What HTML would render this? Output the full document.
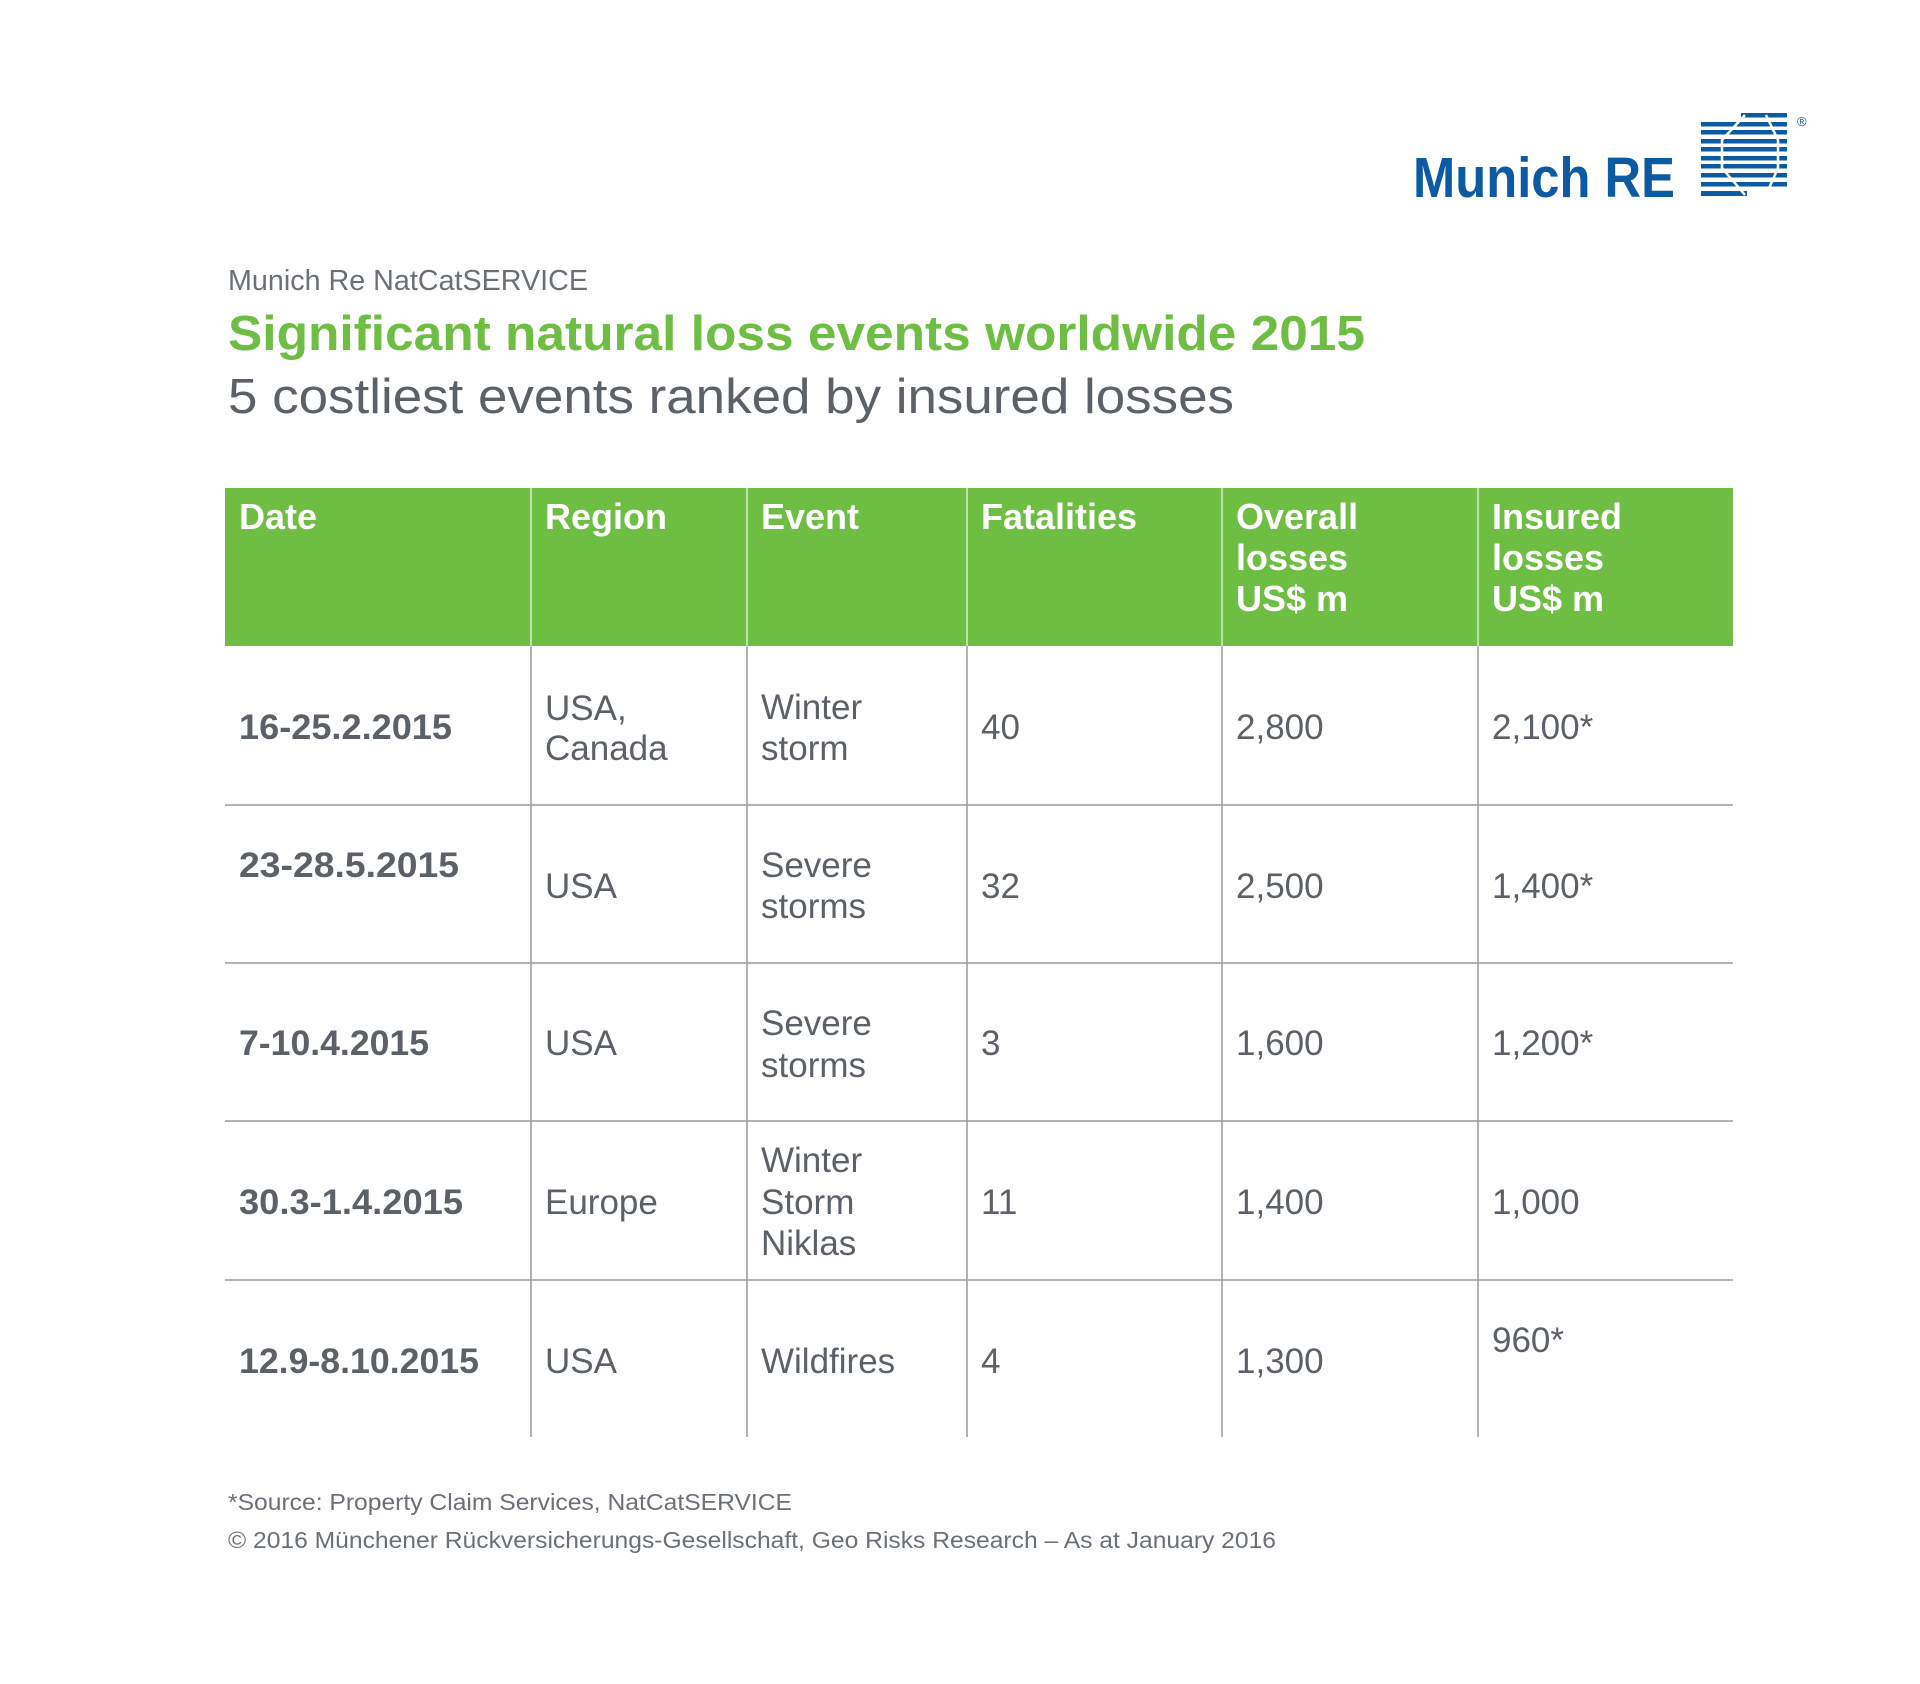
<!DOCTYPE html>
<html><head><meta charset="utf-8"><style>
html,body{margin:0;padding:0;background:#fff;}
svg{display:block;}
text{font-family:"Liberation Sans",sans-serif;}
</style></head><body>
<svg width="1920" height="1684" viewBox="0 0 1920 1684" xmlns="http://www.w3.org/2000/svg">
<rect width="1920" height="1684" fill="#fff"/>
<!-- logo -->
<text x="1413" y="197" font-size="57" font-weight="bold" fill="#0b5aa2" textLength="262" lengthAdjust="spacingAndGlyphs">Munich RE</text>
<g fill="#0b5aa2">
<rect x="1741" y="113" width="46" height="4.5"/>
<rect x="1701" y="122" width="86" height="4.5"/>
<rect x="1701" y="130" width="86" height="4.5"/>
<rect x="1701" y="139" width="86" height="4.5"/>
<rect x="1701" y="147" width="86" height="4.5"/>
<rect x="1701" y="156" width="86" height="4.5"/>
<rect x="1701" y="164" width="86" height="4.5"/>
<rect x="1701" y="173" width="86" height="4.5"/>
<rect x="1701" y="182" width="86" height="4.5"/>
<rect x="1701" y="191" width="46" height="5"/>
</g>
<g stroke="#fff" stroke-width="2.5" fill="none">
<polyline points="1745,115 1722,140 1722,168 1745,195"/>
<polyline points="1766,115 1778,140 1778,168 1766,195"/>
</g>
<text x="1797" y="126" font-size="13" fill="#0b5aa2">®</text>
<!-- titles -->
<text x="228" y="290" font-size="29" fill="#6b7077" textLength="360" lengthAdjust="spacingAndGlyphs">Munich Re NatCatSERVICE</text>
<text x="228" y="350" font-size="49" font-weight="bold" fill="#6fbe44" textLength="1137" lengthAdjust="spacingAndGlyphs">Significant natural loss events worldwide 2015</text>
<text x="228" y="413" font-size="49" fill="#5c6168" textLength="1006" lengthAdjust="spacingAndGlyphs">5 costliest events ranked by insured losses</text>
<!-- header -->
<rect x="225" y="488" width="1508" height="158" fill="#6fbe44"/>
<g stroke="#d8eccb" stroke-width="1.5">
<line x1="531" y1="488" x2="531" y2="646"/><line x1="747" y1="488" x2="747" y2="646"/><line x1="967" y1="488" x2="967" y2="646"/><line x1="1222" y1="488" x2="1222" y2="646"/><line x1="1478" y1="488" x2="1478" y2="646"/>
</g>
<g font-size="36" font-weight="bold" fill="#fff">
<text x="239" y="529">Date</text>
<text x="545" y="529">Region</text>
<text x="761" y="529">Event</text>
<text x="981" y="529">Fatalities</text>
<text x="1236" y="529">Overall</text><text x="1236" y="570">losses</text><text x="1236" y="611">US$ m</text>
<text x="1492" y="529">Insured</text><text x="1492" y="570">losses</text><text x="1492" y="611">US$ m</text>
</g>
<!-- grid -->
<g stroke="#9a9a9a" stroke-width="1.5">
<line x1="531" y1="646" x2="531" y2="1437"/><line x1="747" y1="646" x2="747" y2="1437"/><line x1="967" y1="646" x2="967" y2="1437"/><line x1="1222" y1="646" x2="1222" y2="1437"/><line x1="1478" y1="646" x2="1478" y2="1437"/>
<line x1="225" y1="805" x2="1733" y2="805"/><line x1="225" y1="963" x2="1733" y2="963"/><line x1="225" y1="1121" x2="1733" y2="1121"/><line x1="225" y1="1280" x2="1733" y2="1280"/>
</g>
<g font-size="35" fill="#5c6168">
<text x="239" y="739" font-weight="bold" textLength="213" lengthAdjust="spacingAndGlyphs">16-25.2.2015</text>
<text x="545" y="720">USA,</text><text x="545" y="760">Canada</text>
<text x="761" y="719">Winter</text><text x="761" y="760">storm</text>
<text x="981" y="739">40</text><text x="1236" y="739">2,800</text><text x="1492" y="739">2,100*</text>

<text x="239" y="877" font-weight="bold" textLength="220" lengthAdjust="spacingAndGlyphs">23-28.5.2015</text>
<text x="545" y="898">USA</text>
<text x="761" y="877">Severe</text><text x="761" y="918">storms</text>
<text x="981" y="898">32</text><text x="1236" y="898">2,500</text><text x="1492" y="898">1,400*</text>

<text x="239" y="1055" font-weight="bold" textLength="190" lengthAdjust="spacingAndGlyphs">7-10.4.2015</text>
<text x="545" y="1055">USA</text>
<text x="761" y="1035">Severe</text><text x="761" y="1077">storms</text>
<text x="981" y="1055">3</text><text x="1236" y="1055">1,600</text><text x="1492" y="1055">1,200*</text>

<text x="239" y="1214" font-weight="bold" textLength="224" lengthAdjust="spacingAndGlyphs">30.3-1.4.2015</text>
<text x="545" y="1214">Europe</text>
<text x="761" y="1172">Winter</text><text x="761" y="1214">Storm</text><text x="761" y="1255">Niklas</text>
<text x="981" y="1214">11</text><text x="1236" y="1214">1,400</text><text x="1492" y="1214">1,000</text>

<text x="239" y="1373" font-weight="bold" textLength="240" lengthAdjust="spacingAndGlyphs">12.9-8.10.2015</text>
<text x="545" y="1373">USA</text>
<text x="761" y="1373">Wildfires</text>
<text x="981" y="1373">4</text><text x="1236" y="1373">1,300</text><text x="1492" y="1352">960*</text>
</g>
<!-- footer -->
<text x="228" y="1510" font-size="23" fill="#6b7077" textLength="564" lengthAdjust="spacingAndGlyphs">*Source: Property Claim Services, NatCatSERVICE</text>
<text x="228" y="1548" font-size="23" fill="#6b7077" textLength="1048" lengthAdjust="spacingAndGlyphs">© 2016 Münchener Rückversicherungs-Gesellschaft, Geo Risks Research – As at January 2016</text>
</svg>
</body></html>
